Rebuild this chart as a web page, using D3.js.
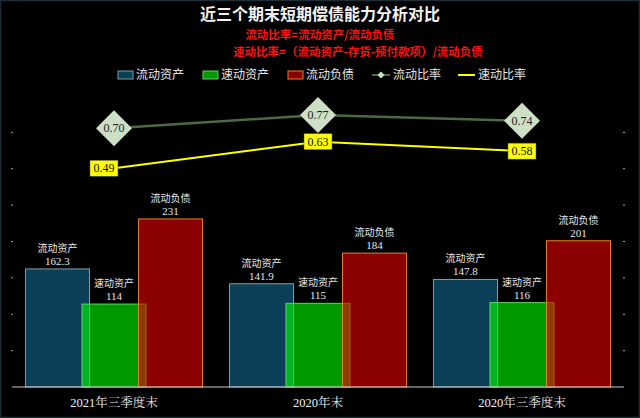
<!DOCTYPE html>
<html><head><meta charset="utf-8">
<script src="https://cdn.jsdelivr.net/npm/d3@7"></script>
<style>
html,body{margin:0;padding:0;background:#000;}
svg{display:block;}
</style></head>
<body><svg id="c" width="640" height="418"></svg>
<script>
// ---- data ----
const categories = ["2021年三季度末", "2020年末", "2020年三季度末"];
const seriesNames = ["流动资产", "速动资产", "流动负债"];
const currentAssets = [162.3, 141.9, 147.8];
const quickAssets = [114, 115, 116];
const currentLiabilities = [231, 184, 201];
const currentRatio = [0.70, 0.77, 0.74];
const quickRatio = [0.49, 0.63, 0.58];
const lineNames = ["流动比率", "速动比率"];
const leftTicks = [50, 100, 150, 200, 250, 300, 350];
const titleText = "近三个期末短期偿债能力分析对比";
const formula1 = "流动比率=流动资产/流动负债";
const formula2 = "速动比率=（流动资产-存货-预付款项）/流动负债";

const barSeries = [currentAssets, quickAssets, currentLiabilities];
const barFill = ["#0b3f57", "rgba(0,255,0,0.6)", "rgba(232,0,0,0.6)"];
const barStroke = ["#7f9ea6", "#5fd45f", "#e8801e"];

const svg = d3.select("#c");
svg.append("rect").attr("x",0.5).attr("y",0.5).attr("width",639).attr("height",417)
  .attr("fill","#000").attr("stroke","#1d2d35").attr("stroke-width",1.5);

const x = d3.scaleBand().domain(categories).range([12, 624]).padding(0);
const y = d3.scaleLinear().domain([0, 400]).range([387, 96]);
const yR = d3.scaleLinear().domain([-0.66, 0.87]).range([387, 96]);

const bw = x.bandwidth();
const barW = bw * 0.314, step = bw * 0.277;
const cx = c => x(c) + bw / 2;

// tick dots
[12, 624].forEach(px => {
  svg.append("g").selectAll("line").data(leftTicks).join("line")
    .attr("x1", px - 1).attr("x2", px + 1)
    .attr("y1", d => y(d)).attr("y2", d => y(d))
    .attr("stroke", "#9aa").attr("stroke-width", 1);
});

// bars
barSeries.forEach((vals, si) => {
  const g = svg.append("g");
  g.selectAll("rect").data(vals).join("rect")
    .attr("x", (d, i) => cx(categories[i]) + (si - 1) * step - barW / 2)
    .attr("y", d => y(d))
    .attr("width", barW)
    .attr("height", d => y(0) - y(d))
    .attr("fill", barFill[si])
    .attr("stroke", barStroke[si]).attr("stroke-width", 1);
});
// bar labels
barSeries.forEach((vals, si) => {
  const g = svg.append("g").attr("text-anchor", "middle").attr("fill", "#e8e8e8");
  vals.forEach((d, i) => {
    const px = cx(categories[i]) + (si - 1) * step;
    g.append("text").attr("x", px).attr("y", y(d) - 17)
      .attr("font-family", "Noto Sans CJK SC").attr("font-size", 10).text(seriesNames[si]);
    g.append("text").attr("x", px).attr("y", y(d) - 4)
      .attr("font-family", "Liberation Serif").attr("font-size", 11).text(d);
  });
});

// baseline
svg.append("line").attr("x1", 12).attr("x2", 624).attr("y1", y(0)).attr("y2", y(0))
  .attr("stroke", "#c8c8c8").attr("stroke-width", 1);

// x labels
svg.append("g").selectAll("text").data(categories).join("text")
  .attr("x", d => cx(d)).attr("y", 407).attr("text-anchor", "middle")
  .attr("fill", "#f0f0f0").attr("font-family", "Liberation Serif, Noto Serif CJK SC, Noto Sans CJK SC")
  .attr("font-size", 12.5).text(d => d);

// lines
const lineGen = d3.line().x((d, i) => cx(categories[i])).y(d => yR(d));
svg.append("path").datum(currentRatio).attr("d", lineGen)
  .attr("fill", "none").attr("stroke", "#4b6a42").attr("stroke-width", 2.5);
svg.append("path").datum(quickRatio).attr("d", lineGen)
  .attr("fill", "none").attr("stroke", "#ffff00").attr("stroke-width", 2);

// diamonds
const dg = svg.append("g");
currentRatio.forEach((v, i) => {
  const px = cx(categories[i]), py = yR(v), r = 18;
  dg.append("path").attr("d", `M${px},${py - r}L${px + r},${py}L${px},${py + r}L${px - r},${py}Z`)
    .attr("fill", "#cde0c6");
  dg.append("text").attr("x", px).attr("y", py + 4).attr("text-anchor", "middle")
    .attr("font-family", "Liberation Serif").attr("font-size", 12).attr("fill", "#222")
    .text(v.toFixed(2));
});
// quick ratio labels
const qg = svg.append("g");
quickRatio.forEach((v, i) => {
  const px = cx(categories[i]) + (i === 0 ? -10 : 0), py = yR(v);
  qg.append("rect").attr("x", px - 14).attr("y", py - 8).attr("width", 28).attr("height", 16)
    .attr("fill", "#ffff00").attr("stroke", "#555").attr("stroke-width", 0.5);
  qg.append("text").attr("x", px).attr("y", py + 4).attr("text-anchor", "middle")
    .attr("font-family", "Liberation Serif").attr("font-size", 12).attr("fill", "#111")
    .text(v.toFixed(2));
});

// title
svg.append("text").attr("x", 320).attr("y", 20).attr("text-anchor", "middle")
  .attr("fill", "#f2f2f2").attr("font-family", "Noto Sans CJK SC").attr("font-weight", "bold")
  .attr("font-size", 16).text(titleText);
svg.append("text").attr("x", 320).attr("y", 39).attr("text-anchor", "middle")
  .attr("fill", "#ff1010").attr("font-family", "Noto Sans CJK SC").attr("font-weight", "bold")
  .attr("font-size", 11.5).text(formula1);
svg.append("text").attr("x", 358).attr("y", 56).attr("text-anchor", "middle")
  .attr("fill", "#ff1010").attr("font-family", "Noto Sans CJK SC").attr("font-weight", "bold")
  .attr("font-size", 11.5).text(formula2);

// legend
const lg = svg.append("g").attr("font-family", "Noto Sans CJK SC").attr("font-size", 12).attr("fill", "#e6e6e6");
const legX = [118, 203, 288, 372, 458];
seriesNames.forEach((n, i) => {
  lg.append("rect").attr("x", legX[i]).attr("y", 71).attr("width", 15).attr("height", 8)
    .attr("fill", barFill[i]).attr("stroke", barStroke[i]).attr("stroke-width", 1);
  lg.append("text").attr("x", legX[i] + 18).attr("y", 79).text(n);
});
lg.append("line").attr("x1", legX[3]).attr("x2", legX[3] + 18).attr("y1", 75).attr("y2", 75)
  .attr("stroke", "#4b6a42").attr("stroke-width", 2);
lg.append("path").attr("d", `M${legX[3] + 9},71.5L${legX[3] + 12.5},75L${legX[3] + 9},78.5L${legX[3] + 5.5},75Z`)
  .attr("fill", "#cde0c6");
lg.append("text").attr("x", legX[3] + 21).attr("y", 79).text(lineNames[0]);
lg.append("line").attr("x1", legX[4]).attr("x2", legX[4] + 17).attr("y1", 75).attr("y2", 75)
  .attr("stroke", "#ffff00").attr("stroke-width", 2);
lg.append("text").attr("x", legX[4] + 20).attr("y", 79).text(lineNames[1]);
</script>
</body></html>
